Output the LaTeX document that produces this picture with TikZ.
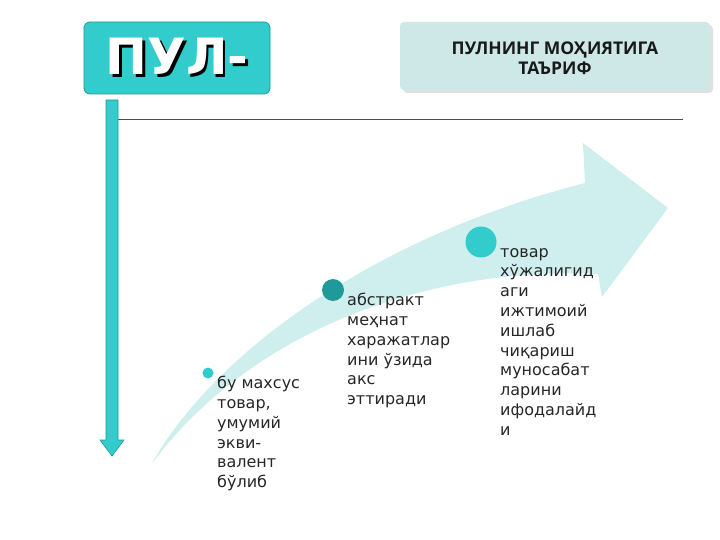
\documentclass[tikz,border=0pt]{standalone}
\usepackage{fontspec}
\usetikzlibrary{calc}
\setmainfont{DejaVu Sans}
\newfontfamily\headfont{Open Sans}
\newfontfamily\bigfont{DejaVu Sans}
\definecolor{cyanA}{HTML}{33CCCC}
\definecolor{tealB}{HTML}{1F9A9A}
\definecolor{paleC}{HTML}{CFEEEE}
\definecolor{boxD}{HTML}{CDE8E6}
\begin{document}
\begin{tikzpicture}[x=1pt,y=-1pt,
  bodytext/.style={anchor=north west,align=left,inner sep=0pt,font=\fontsize{16}{19.8}\selectfont,text=black!85},
  dot/.style={circle,fill=cyanA,inner sep=0pt}]
\useasboundingbox (0,0) rectangle (720,540);
% curved arrow
\fill[paleC] (151,465) .. controls (215,350) and (380,235) .. (585,183)
  -- (583,143) -- (668,208) -- (602,297) -- (598,274)
  .. controls (430,266) and (250,330) .. cycle;
% title box
\node[draw=tealB,fill=cyanA,rounded corners=6pt,minimum width=186pt,minimum height=72pt,inner sep=0pt,line width=0.8pt] (title) at (177,58) {};
\node[font=\bigfont\bfseries\fontsize{50}{50}\selectfont,inner sep=0pt] (titletext) at (title.center)
  {\makebox[0pt][l]{\hspace{2.5pt}\raisebox{-2.5pt}{\textcolor{black}{ПУЛ-}}}\textcolor{white}{ПУЛ-}};
% header box
\fill[black!12,rounded corners=4pt] (403,25) rectangle (713,93);
\fill[boxD,rounded corners=4pt] (400,22) rectangle (710,90);
\node[font=\headfont\bfseries\fontsize{17.5}{20}\selectfont,align=center,text=black!90] (head) at (555,58) {ПУЛНИНГ МОҲИЯТИГА\\ТАЪРИФ};
% horizontal rule
\coordinate (hl) at (118,119);
\coordinate (hr) at (683,119);
\draw[black!70,line width=0.9pt] (hl) -- (hr);
% vertical arrow
\draw[tealB,fill=cyanA,line width=0.6pt,line join=miter] (106,100) -- (118,100) -- (118,440) -- (124,440) -- (112,456) -- (100,440) -- (106,440) -- cycle;
% dots
\node[dot,minimum size=11pt] (d1) at (208,373) {};
\node[dot,fill=tealB,minimum size=22pt] (d2) at (333,290) {};
\node[dot,minimum size=31pt] (d3) at (481,242) {};
% texts
\node[bodytext] (t1) at (217,376) {бу махсус\\товар,\\умумий\\экви-\\валент\\бўлиб};
\node[bodytext] (t2) at (347,293) {абстракт\\меҳнат\\харажатлар\\ини ўзида\\акс\\эттиради};
\node[bodytext] (t3) at (500,248) {товар\\хўжалигид\\аги\\ижтимоий\\ишлаб\\чиқариш\\муносабат\\ларини\\ифодалайд\\и};
\end{tikzpicture}
\end{document}
